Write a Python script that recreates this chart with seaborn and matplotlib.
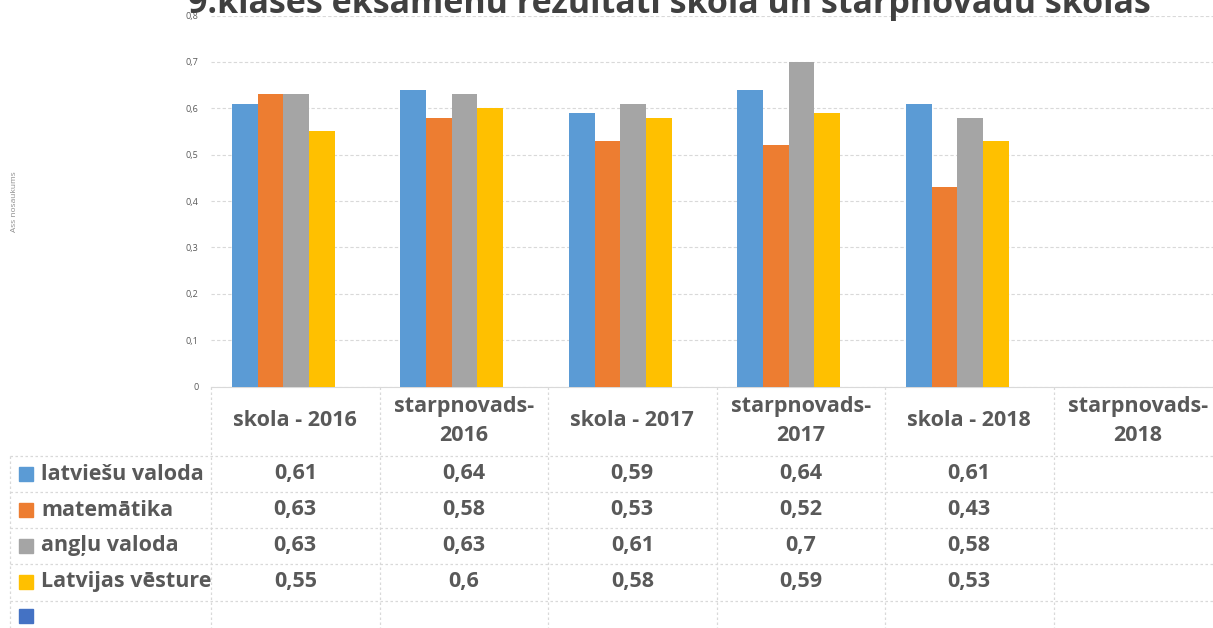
import numpy as np
import pandas as pd
import matplotlib
matplotlib.use("Agg")
import matplotlib.pyplot as plt
import matplotlib.transforms as mtransforms
from matplotlib.patches import Rectangle
import seaborn as sns

# ---------------- data ----------------
categories = ["skola - 2016", "starpnovads-\n2016", "skola - 2017",
              "starpnovads-\n2017", "skola - 2018", "starpnovads-\n2018"]
subjects = ["latviešu valoda", "matemātika", "angļu valoda", "Latvijas vēsture"]
latviesu_valoda = [0.61, 0.64, 0.59, 0.64, 0.61, np.nan]
matematika = [0.63, 0.58, 0.53, 0.52, 0.43, np.nan]
anglu_valoda = [0.63, 0.63, 0.61, 0.70, 0.58, np.nan]
latvijas_vesture = [0.55, 0.60, 0.58, 0.59, 0.53, np.nan]
yticks = [0, 0.1, 0.2, 0.3, 0.4, 0.5, 0.6, 0.7, 0.8]
title = "9.klases eksāmenu rezultāti skolā un starpnovadu skolās"
ylabel = "Ass nosaukums"

colors = ["#5B9BD5", "#ED7D31", "#A5A5A5", "#FFC000"]
extra_color = "#4472C4"
text_color = "#595959"
line_color = "#D9D9D9"

series = [latviesu_valoda, matematika, anglu_valoda, latvijas_vesture]
rows = []
for s, vals in zip(subjects, series):
    for c, v in zip(categories, vals):
        rows.append({"kategorija": c, "prieksmets": s, "vertiba": v})
df = pd.DataFrame(rows)


def fmt(v):
    if v is None or (isinstance(v, float) and np.isnan(v)):
        return ""
    return f"{v:g}".replace(".", ",")


# ---------------- figure ----------------
sns.set_theme(style="white")
plt.rcParams["font.family"] = ["Open Sans", "DejaVu Sans"]

W, H = 1213, 628
fig = plt.figure(figsize=(W / 100, H / 100), dpi=100)

y0_px, ytop_px = 386.7, 15.5
left_px, col_w = 211, 168.5
ax = fig.add_axes([left_px / W, 1 - y0_px / H, 6 * col_w / W, (y0_px - ytop_px) / H])

sns.barplot(data=df, x="kategorija", y="vertiba", hue="prieksmets",
            order=categories, hue_order=subjects, palette=colors,
            width=0.61, gap=0, saturation=1, legend=False, errorbar=None,
            linewidth=0, ax=ax, zorder=3)

d = 0.071
ax.set_xlim(-0.5 + d, 5.5 + d)
ax.set_ylim(0, 0.8)
ax.set_yticks(yticks)
ax.set_yticklabels([fmt(v) if v != 0 else "0" for v in yticks])
ax.set_xticks([])
ax.set_xlabel("")
ax.set_ylabel("")
ax.tick_params(axis="y", length=0, pad=9, labelsize=6.5, labelcolor=text_color)
ax.yaxis.grid(True, linestyle=(0, (3, 2)), color=line_color, linewidth=0.8, zorder=0)
for side in ["left", "right", "top"]:
    ax.spines[side].set_visible(False)
ax.spines["bottom"].set_color(line_color)
ax.spines["bottom"].set_linewidth(0.8)
ax.set_facecolor("none")

# title (partly cut off at the top, as in the reference)
fig.text(669 / W, 1 - 13 / H, title, ha="center", va="baseline",
         fontsize=24.5, fontweight="bold", color="#404040")

# y axis label
fig.text(15 / W, 1 - 202 / H, ylabel, rotation=90, ha="center", va="center",
         fontsize=6, color="#8c8c8c")

# ---------------- data table ----------------
tab = fig.add_axes([0, 0, 1, 1], zorder=-1)
tab.set_xlim(0, W)
tab.set_ylim(H, 0)
tab.axis("off")
trans = mtransforms.blended_transform_factory(ax.transData, tab.transData)

row_lines = [456, 492, 528, 564, 601]
row_centers = [474, 510, 546, 582, 616]
table_fs = 15.5
ls = (0, (2, 2))

# vertical column lines
for i in range(len(categories) + 1):
    tab.plot([i - 0.5 + d, i - 0.5 + d], [y0_px, H + 5], transform=trans,
             color=line_color, lw=0.9, ls=ls, clip_on=False)
tab.plot([10, 10], [row_lines[0], H + 5], color=line_color, lw=0.9, ls=ls)
# horizontal row lines
for y in row_lines:
    tab.plot([10, W + 20], [y, y], color=line_color, lw=0.9, ls=ls, clip_on=False)

# header
for i, c in enumerate(categories):
    tab.text(i + d, 421, c, transform=trans, ha="center", va="center",
             fontsize=table_fs, fontweight="bold", color=text_color,
             linespacing=1.5, clip_on=False)

# rows
for r, (s, vals, col) in enumerate(zip(subjects, series, colors)):
    yc = row_centers[r]
    tab.add_patch(Rectangle((19, yc - 7), 14, 14, color=col))
    tab.text(41, yc, s, ha="left", va="center", fontsize=table_fs,
             fontweight="bold", color=text_color)
    for i, v in enumerate(vals):
        tab.text(i + d, yc, fmt(v), transform=trans, ha="center", va="center",
                 fontsize=table_fs, fontweight="bold", color=text_color,
                 clip_on=False)
# empty fifth row with only its key
tab.add_patch(Rectangle((19, row_centers[4] - 7), 14, 14, color=extra_color))

fig.savefig("out.png", dpi=100)
